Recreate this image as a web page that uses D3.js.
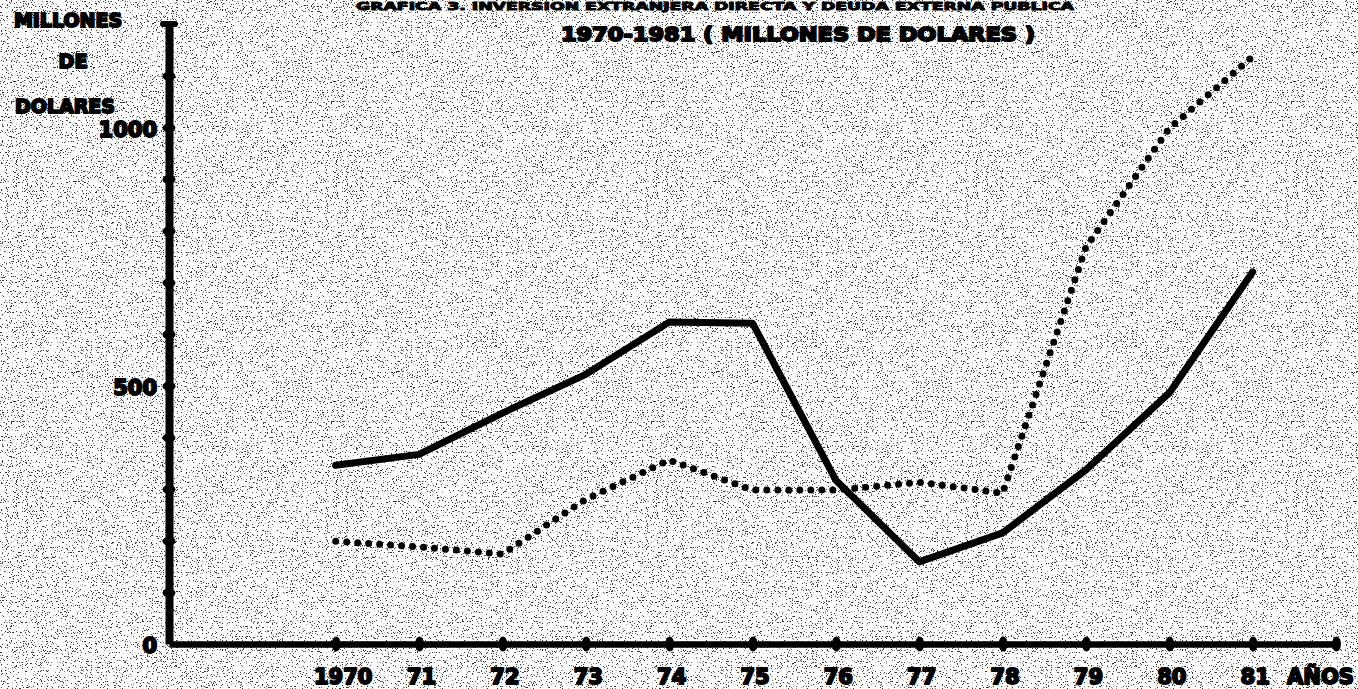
<!DOCTYPE html>
<html>
<head>
<meta charset="utf-8">
<script src="https://cdn.jsdelivr.net/npm/d3@7"></script>
<style>
  html, body { margin: 0; padding: 0; background: #fff; }
  svg { display: block; }
  text { font-family: "DejaVu Sans", sans-serif; font-weight: bold; fill: #000;
         stroke: #000; stroke-width: 2px; stroke-linejoin: round; }
</style>
</head>
<body>
<div id="chart"></div>
<script>
  // data (millions of dollars)
  var years = [1970, 1971, 1972, 1973, 1974, 1975, 1976, 1977, 1978, 1979, 1980, 1981];
  var solidSeries = [346, 367, 447, 522, 623, 621, 317, 159, 215, 337, 486, 720];
  var dottedSeries = [199, 188, 174, 280, 356, 298, 298, 313, 292, 768, 998, 1137];
  var yTicks = [0, 100, 200, 300, 400, 500, 600, 700, 800, 900, 1000, 1100];
  var yLabels = {0: "0", 500: "500", 1000: "1000"};
  var xTicks = [1970, 1971, 1972, 1973, 1974, 1975, 1976, 1977, 1978, 1979, 1980, 1981, 1982];
  var xLabels = ["1970", "71", "72", "73", "74", "75", "76", "77", "78", "79", "80", "81", "AÑOS"];

  var width = 1358, height = 689;

  var svg = d3.select("#chart").append("svg")
      .attr("width", width)
      .attr("height", height);

  // speckled photocopy background
  var defs = svg.append("defs");
  var f = defs.append("filter").attr("id", "speckle")
      .attr("x", 0).attr("y", 0).attr("width", "100%").attr("height", "100%");
  f.append("feTurbulence")
      .attr("type", "fractalNoise")
      .attr("baseFrequency", 0.8)
      .attr("numOctaves", 2)
      .attr("seed", 7)
      .attr("result", "t");
  f.append("feColorMatrix")
      .attr("in", "t")
      .attr("type", "matrix")
      .attr("values", "0 0 0 0 0  0 0 0 0 0  0 0 0 0 0  -18 0 0 0 6.75");

  svg.append("rect").attr("width", width).attr("height", height).attr("fill", "#fff");
  svg.append("rect").attr("width", width).attr("height", height)
      .attr("filter", "url(#speckle)").attr("opacity", 0.8);

  var x = d3.scaleLinear().domain([1968, 1982]).range([169, 1336]);
  var y = d3.scaleLinear().domain([0, 1200]).range([644, 24]);

  // title (the first line is mostly cut off in the scan)
  svg.append("text")
      .attr("x", 356).attr("y", 10)
      .attr("textLength", 718)
      .attr("lengthAdjust", "spacingAndGlyphs")
      .style("font-size", "11px")
      .style("stroke-width", "1px")
      .text("GRAFICA 3. INVERSION EXTRANJERA DIRECTA Y DEUDA EXTERNA PUBLICA");
  svg.append("text")
      .attr("x", 798).attr("y", 41)
      .attr("text-anchor", "middle")
      .attr("textLength", 474)
      .attr("lengthAdjust", "spacingAndGlyphs")
      .style("font-size", "20px")
      .text("1970-1981 ( MILLONES DE DOLARES )");

  // y axis title
  var ytitle = [["MILLONES", 68, 27], ["DE", 73, 68], ["DOLARES", 65, 113]];
  svg.selectAll(".ytitle").data(ytitle).enter()
    .append("text")
      .attr("class", "ytitle")
      .attr("x", function(d) { return d[1]; })
      .attr("y", function(d) { return d[2]; })
      .attr("text-anchor", "middle")
      .style("font-size", "19px")
      .text(function(d) { return d[0]; });

  // axes
  var yAxis = d3.axisLeft(y)
      .tickValues(yTicks)
      .tickSize(0)
      .tickPadding(12)
      .tickFormat(function(d) { return yLabels[d] || ""; });
  var gy = svg.append("g")
      .attr("transform", "translate(" + x(1968) + ",0)")
      .call(yAxis);
  gy.select(".domain").attr("stroke", "#000").attr("stroke-width", 8);
  gy.selectAll(".tick text")
      .style("font-size", "21px")
      .attr("dy", "0.42em");
  gy.selectAll(".tick").filter(function(d) { return d > 0; })
    .append("ellipse")
      .attr("rx", 6.5).attr("ry", 4.5).attr("fill", "#000");
  gy.append("rect")
      .attr("x", -9).attr("y", y(1200) - 3)
      .attr("width", 18).attr("height", 6)
      .attr("rx", 3).attr("fill", "#000");

  var xAxis = d3.axisBottom(x)
      .tickValues(xTicks)
      .tickSize(0)
      .tickPadding(25)
      .tickFormat(function(d, i) { return xLabels[i]; });
  var gx = svg.append("g")
      .attr("transform", "translate(0," + y(0) + ")")
      .call(xAxis);
  gx.select(".domain").attr("stroke", "#000").attr("stroke-width", 6.5);
  gx.selectAll(".tick text")
      .style("font-size", "21px")
      .attr("dx", function(d) { return d === 1970 ? 7 : (d === 1982 ? -16 : 2); });
  gx.selectAll(".tick")
    .append("ellipse")
      .attr("rx", 4.5).attr("ry", 7.5).attr("fill", "#000");

  // lines
  var line = d3.line()
      .x(function(d) { return x(d.year); })
      .y(function(d) { return y(d.value); });

  function pairs(vals) {
    return years.map(function(yr, i) { return {year: yr, value: vals[i]}; });
  }

  svg.append("path")
      .datum(pairs(dottedSeries))
      .attr("d", line)
      .attr("fill", "none")
      .attr("stroke", "#000")
      .attr("stroke-width", 7)
      .attr("stroke-linecap", "round")
      .attr("stroke-dasharray", "0 11");

  svg.append("path")
      .datum(pairs(solidSeries))
      .attr("d", line)
      .attr("fill", "none")
      .attr("stroke", "#000")
      .attr("stroke-width", 7)
      .attr("stroke-linejoin", "round")
      .attr("stroke-linecap", "round");
</script>
</body>
</html>
